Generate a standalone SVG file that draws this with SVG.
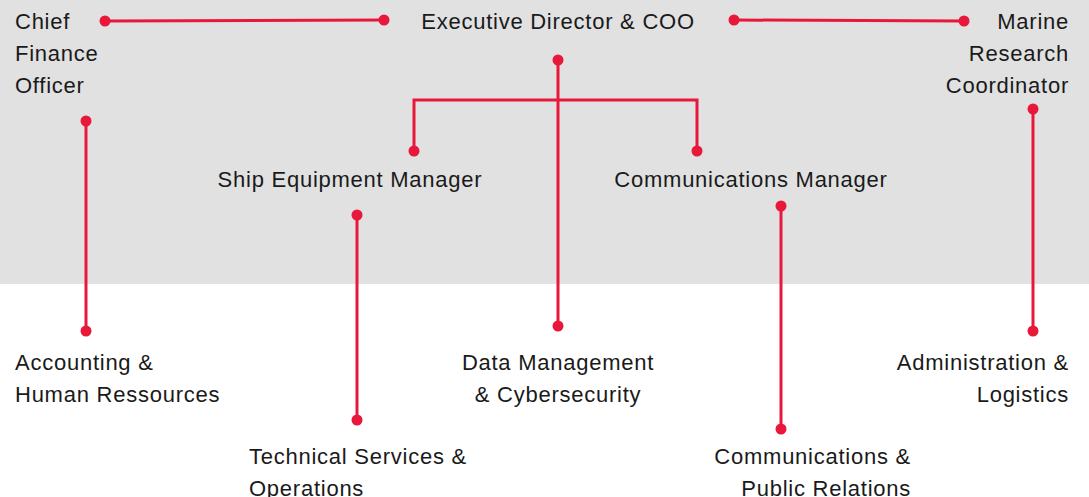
<svg xmlns="http://www.w3.org/2000/svg" width="1089" height="497" viewBox="0 0 1089 497">
<style>
.t{font-family:"Liberation Sans",Arial,sans-serif;font-size:22px;letter-spacing:0.75px;fill:#1a1a1a}
.c{stroke:#e8183a;stroke-width:3;fill:none}
.d{fill:#e8183a}
</style>
<rect x="0" y="0" width="1089" height="284" fill="#e1e1e1"/>
<g id="connectors">
<path class="c" d="M105 21 L384 20"/>
<path class="c" d="M734 20 L964 21"/>
<path class="c" d="M558 60 L558 326"/>
<path class="c" d="M414 151 L414 100 L697 100 L697 151"/>
<path class="c" d="M86 121 L86 331"/>
<path class="c" d="M357 215 L357 420"/>
<path class="c" d="M781 206 L781 429"/>
<path class="c" d="M1033 109 L1033 331"/>
<circle class="d" cx="105" cy="21" r="5.5"/>
<circle class="d" cx="384" cy="20" r="5.5"/>
<circle class="d" cx="734" cy="20" r="5.5"/>
<circle class="d" cx="964" cy="21" r="5.5"/>
<circle class="d" cx="558" cy="60" r="5.5"/>
<circle class="d" cx="558" cy="326" r="5.5"/>
<circle class="d" cx="414" cy="151" r="5.5"/>
<circle class="d" cx="697" cy="151" r="5.5"/>
<circle class="d" cx="86" cy="121" r="5.5"/>
<circle class="d" cx="86" cy="331" r="5.5"/>
<circle class="d" cx="357" cy="215" r="5.5"/>
<circle class="d" cx="357" cy="420" r="5.5"/>
<circle class="d" cx="781" cy="206" r="5.5"/>
<circle class="d" cx="781" cy="429" r="5.5"/>
<circle class="d" cx="1033" cy="109" r="5.5"/>
<circle class="d" cx="1033" cy="331" r="5.5"/>
</g>
<g id="cfo"><text class="t" x="15" y="29">Chief</text><text class="t" x="15" y="61">Finance</text><text class="t" x="15" y="93">Officer</text></g>
<g id="exec"><text class="t" x="558" y="29" text-anchor="middle">Executive Director &amp; COO</text></g>
<g id="marine"><text class="t" x="1069" y="29" text-anchor="end">Marine</text><text class="t" x="1069" y="61" text-anchor="end">Research</text><text class="t" x="1069" y="93" text-anchor="end">Coordinator</text></g>
<g id="ship"><text class="t" x="350" y="187" text-anchor="middle">Ship Equipment Manager</text></g>
<g id="comms"><text class="t" x="751" y="187" text-anchor="middle">Communications Manager</text></g>
<g id="accounting"><text class="t" x="15" y="370">Accounting &amp;</text><text class="t" x="15" y="402">Human Ressources</text></g>
<g id="data"><text class="t" x="558" y="370" text-anchor="middle">Data Management</text><text class="t" x="558" y="402" text-anchor="middle">&amp; Cybersecurity</text></g>
<g id="admin"><text class="t" x="1069" y="370" text-anchor="end">Administration &amp;</text><text class="t" x="1069" y="402" text-anchor="end">Logistics</text></g>
<g id="technical"><text class="t" x="249" y="464">Technical Services &amp;</text><text class="t" x="249" y="496">Operations</text></g>
<g id="pr"><text class="t" x="911" y="464" text-anchor="end">Communications &amp;</text><text class="t" x="911" y="496" text-anchor="end">Public Relations</text></g>
</svg>
